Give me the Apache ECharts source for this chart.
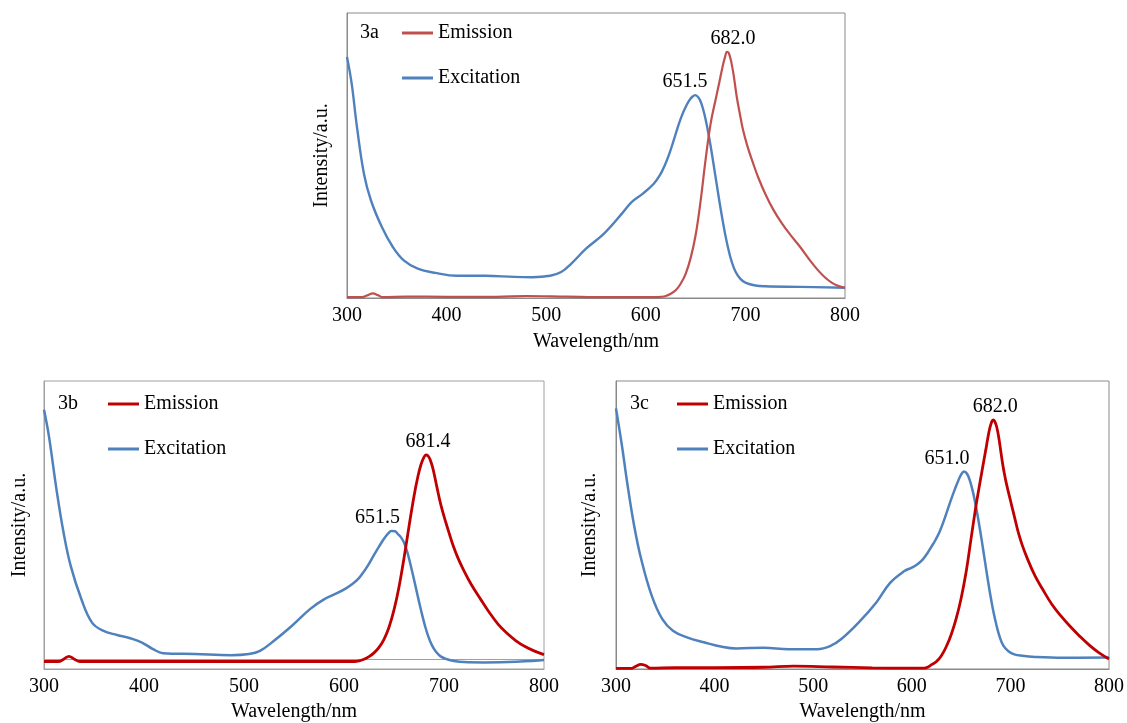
<!DOCTYPE html>
<html>
<head>
<meta charset="utf-8">
<script src="https://cdn.jsdelivr.net/npm/echarts@6/dist/echarts.min.js"></script>
<style>
html,body{margin:0;padding:0;background:#fff;}
#chart{width:1127px;height:723px;}
</style>
</head>
<body>
<div id="chart"></div>
<script>
// ---------- DATA ----------
const xTicks = [300, 400, 500, 600, 700, 800];
const panelTags = ['3a', '3b', '3c'];
const seriesNames = ['Emission', 'Excitation'];

// 3a
const aExcNm  = [300,304.7,310,317,324,335,346,357,371,389,410,439,468,486,504,515,525,540,558,576,586,597,608,614,619,624,628,632,636,640,644,647,649.4,653,656,659,662,665,668,671,674,677,680,683,686,690,695,700,710,720,755,800];
const aExcInt = [84.6,75.2,60.0,43.6,34.3,24.9,17.9,13.2,10.3,8.8,7.8,7.8,7.4,7.3,7.8,9.1,12.0,17.3,22.6,29.6,33.7,36.6,40.1,43.0,46.5,51.0,55.3,59.8,63.8,67.0,69.5,70.7,71.2,70.3,68.0,64.3,59.3,53.5,47.0,40.3,33.7,27.5,21.8,17.0,13.0,9.3,6.7,5.4,4.4,4.1,3.9,3.6];
const aEmNm   = [300,315,321,326,331,336,360,400,450,480,520,560,600,610,615,620,625,630,635,640,645,650,655,660,665,670,674,677,679.5,681.5,683.5,686,688.5,691.3,694.5,697.6,702,707.6,713,720,728,737,746,755,764,773,780,787,793,800];
const aEmInt  = [0.3,0.3,1.0,1.6,1.0,0.3,0.5,0.4,0.4,0.7,0.5,0.3,0.3,0.3,0.4,0.7,1.5,2.7,5.0,8.5,14.0,22.0,34.0,48.5,61.0,69.5,76.0,81.0,84.5,86.4,85.8,82.5,77.5,70.6,64.5,59.0,53.3,47.4,42.2,36.5,31.0,26.0,21.8,17.9,13.6,9.7,7.2,5.3,4.3,3.6];
const aPeakLabels = ['682.0', '651.5'];

// 3b
const bExcNm  = [300,305,312.5,319.6,326.7,337.4,348,359,373,387,398,409,419,451,487,505,516,530,548,566,580,594,602,608,614,619,624,630,635,640,644,647.5,651,654,657,660,663,666,669,672,675,678,681,684,688,692,697,703,710,720,740,772,800];
const bExcInt = [90.0,80.7,62.3,47.3,35.8,24.2,16.1,13.3,11.8,10.6,9.2,6.9,5.5,5.2,4.8,5.2,6.3,9.8,15.0,20.8,24.2,26.5,28.0,29.4,31.2,33.4,36.0,39.6,42.5,45.2,47.0,47.9,47.8,46.8,45.7,43.9,40.9,37.0,32.6,28.0,23.4,19.0,15.0,11.6,8.2,6.0,4.3,3.4,2.8,2.4,2.3,2.5,3.1];
const bEmNm   = [300,315,320,325,330,336,400,500,600,610,615,620,625,630,635,640,645,650,655,660,665,670,674,677,680,682,684,686,689,692.7,697,702,705.5,709.3,714,719,727,737,745,754,763,772,781,790,800];
const bEmInt  = [2.6,2.6,3.5,4.4,3.5,2.6,2.6,2.6,2.6,2.6,2.8,3.4,4.3,5.6,7.5,10.3,14.5,20.5,28.5,38.5,49.5,60.0,67.0,71.0,73.6,74.3,74.0,72.8,69.5,63.5,56.8,50.7,46.8,42.7,38.5,34.8,29.5,24.0,19.8,15.6,12.4,9.8,7.8,6.3,5.0];
const bBaseLine = 3.3;
const bPeakLabels = ['681.4', '651.5'];

// 3c
const cExcNm  = [300,306,311.4,318.5,325.6,336.3,347,357.7,372,390,407.5,422,450,475,504,518,528.5,546,564,578,592.5,600,606,611,616,620,624,628,632,636,640,644,647,650,653,656,659,662,665,668,671,674,677,680,683,686,689,693,698,704,712,725,753,800];
const cExcInt = [90.5,77.6,64.6,49.6,38.1,25.4,17.3,13.3,11.0,9.2,7.7,7.1,7.4,6.9,6.9,8.1,10.4,16.1,23.1,29.9,34.0,35.2,36.5,38.0,40.3,42.5,44.8,47.5,51.0,55.0,59.0,62.7,65.3,67.5,68.6,67.8,65.3,61.5,56.5,50.8,44.5,37.8,31.2,25.0,19.5,15.0,11.3,8.0,6.2,5.1,4.6,4.2,3.9,4.0];
const cEmNm   = [300,315,320,325,330,335,360,400,450,480,520,560,600,610,615,620,625,630,635,640,645,650,655,660,665,668,672,675,677,679,681,682.5,684,686,688,690,692,694,696,700,704,708,712,717,725,733,742,751,760,770,780,790,800];
const cEmInt  = [0.2,0.2,0.9,1.6,1.2,0.3,0.5,0.5,0.6,1.0,0.7,0.4,0.3,0.3,0.5,1.5,2.6,4.6,7.8,12.0,17.5,24.5,33.5,45.0,56.5,62.5,70.3,76.0,80.0,83.5,85.8,86.5,86.1,84.2,80.8,76.2,71.5,67.6,64.3,58.6,53.0,47.4,43.0,38.5,32.3,27.5,22.5,18.5,15.0,11.5,8.3,5.6,3.5];
const cPeakLabels = ['682.0', '651.0'];

// ---------- BUILD ----------
const FONT = '"Liberation Serif", "Times New Roman", serif';
const zip = (xs, ys) => xs.map((x, i) => [x, ys[i]]);
// main band peak (search the band above 550 nm only)
const peakOf = (xs, ys) => {
  let k = -1;
  ys.forEach((v, i) => { if (xs[i] > 550 && (k < 0 || v > ys[k])) k = i; });
  return [xs[k], ys[k]];
};

const panels = [
  { grid: {left: 347, top: 13, width: 498, height: 285}, border: '#8a8a8a',
    em: [aEmNm, aEmInt], ex: [aExcNm, aExcInt], labels: aPeakLabels,
    emColor: '#C0504D', exColor: '#4F81BD', emW: 2.2, exW: 2.4,
    emOff: [6, 0], exOff: [-10, 0], nameGapY: 15, nameGapX: 34,
    legend: {left: 402, top: 23}, tag: {x: 360, y: 33} },
  { grid: {left: 44, top: 381, width: 500, height: 289}, border: '#a0a0a0',
    em: [bEmNm, bEmInt], ex: [bExcNm, bExcInt], labels: bPeakLabels,
    emColor: '#C00000', exColor: '#4F81BD', emW: 2.8, exW: 2.5,
    emOff: [2, 0], exOff: [-14, 0], nameGapY: 14, nameGapX: 33, base: bBaseLine,
    legend: {left: 108, top: 394}, tag: {x: 58, y: 404} },
  { grid: {left: 616, top: 381, width: 499, height: 289}, border: '#8a8a8a',
    em: [cEmNm, cEmInt], ex: [cExcNm, cExcInt], labels: cPeakLabels,
    emColor: '#C00000', exColor: '#4F81BD', emW: 2.8, exW: 2.5,
    emOff: [2, 0], exOff: [-17, 0], nameGapY: 16, nameGapX: 33,
    legend: {left: 677, top: 394}, tag: {x: 630, y: 404} }
];

const option = {
  backgroundColor: '#fff',
  animation: false,
  grid: [], xAxis: [], yAxis: [], series: [], legend: [], graphic: []
};

panels.forEach((p, i) => {
  option.grid.push(Object.assign({show: true, borderColor: p.border, borderWidth: 1, backgroundColor: 'transparent'}, p.grid));
  option.xAxis.push({
    type: 'value', gridIndex: i, min: xTicks[0], max: xTicks[xTicks.length - 1], interval: 100,
    name: 'Wavelength/nm', nameLocation: 'middle', nameGap: p.nameGapX,
    nameTextStyle: {fontFamily: FONT, fontSize: 20, color: '#000'},
    axisLine: {show: true, lineStyle: {color: p.border, width: 1}},
    axisTick: {show: false}, splitLine: {show: false},
    axisLabel: {margin: 8, fontFamily: FONT, fontSize: 20, color: '#000'}
  });
  option.yAxis.push({
    type: 'value', gridIndex: i, min: 0, max: 100,
    name: 'Intensity/a.u.', nameLocation: 'middle', nameGap: p.nameGapY,
    nameTextStyle: {fontFamily: FONT, fontSize: 20, color: '#000'},
    axisLine: {show: true, lineStyle: {color: p.border, width: 1}},
    axisTick: {show: false}, splitLine: {show: false}, axisLabel: {show: false}
  });
  const emPeak = peakOf(p.em[0], p.em[1]);
  const exPeak = peakOf(p.ex[0], p.ex[1]);
  const peakLabel = (coord, text, off) => ({
    coord: coord, symbol: 'circle', symbolSize: 0,
    label: {show: true, formatter: text, position: 'top', distance: 3, offset: off,
            fontFamily: FONT, fontSize: 20, color: '#000'}
  });
  const emSeries = {
    name: seriesNames[0], type: 'line', xAxisIndex: i, yAxisIndex: i,
    data: zip(p.em[0], p.em[1]), showSymbol: false, smooth: 0.4, z: 3,
    lineStyle: {color: p.emColor, width: p.emW}, itemStyle: {color: p.emColor},
    markPoint: {silent: true, data: [peakLabel(emPeak, p.labels[0], p.emOff)]}
  };
  if (p.base !== undefined) {
    emSeries.markLine = {silent: true, symbol: 'none', label: {show: false},
      lineStyle: {color: '#a0a0a0', width: 1, type: 'solid'}, z: 1,
      data: [{yAxis: p.base}]};
  }
  option.series.push(emSeries);
  option.series.push({
    name: seriesNames[1], type: 'line', xAxisIndex: i, yAxisIndex: i,
    data: zip(p.ex[0], p.ex[1]), showSymbol: false, smooth: 0.4, z: 2,
    lineStyle: {color: p.exColor, width: p.exW}, itemStyle: {color: p.exColor},
    markPoint: {silent: true, data: [peakLabel(exPeak, p.labels[1], p.exOff)]}
  });
  option.legend.push({
    orient: 'vertical', left: p.legend.left, top: p.legend.top, padding: 0,
    itemWidth: 31, itemHeight: 3, itemGap: 25, icon: 'rect', selectedMode: false,
    textStyle: {fontFamily: FONT, fontSize: 20, color: '#000', lineHeight: 20},
    data: [
      {name: seriesNames[0], itemStyle: {color: p.emColor}},
      {name: seriesNames[1], itemStyle: {color: p.exColor}}
    ]
  });
  option.graphic.push({
    type: 'text', left: p.tag.x, top: p.tag.y - 10,
    style: {text: panelTags[i], font: '20px ' + FONT, fill: '#000'}
  });
});

const chart = echarts.init(document.getElementById('chart'), null, {renderer: 'canvas'});
chart.setOption(option);
</script>
</body>
</html>
